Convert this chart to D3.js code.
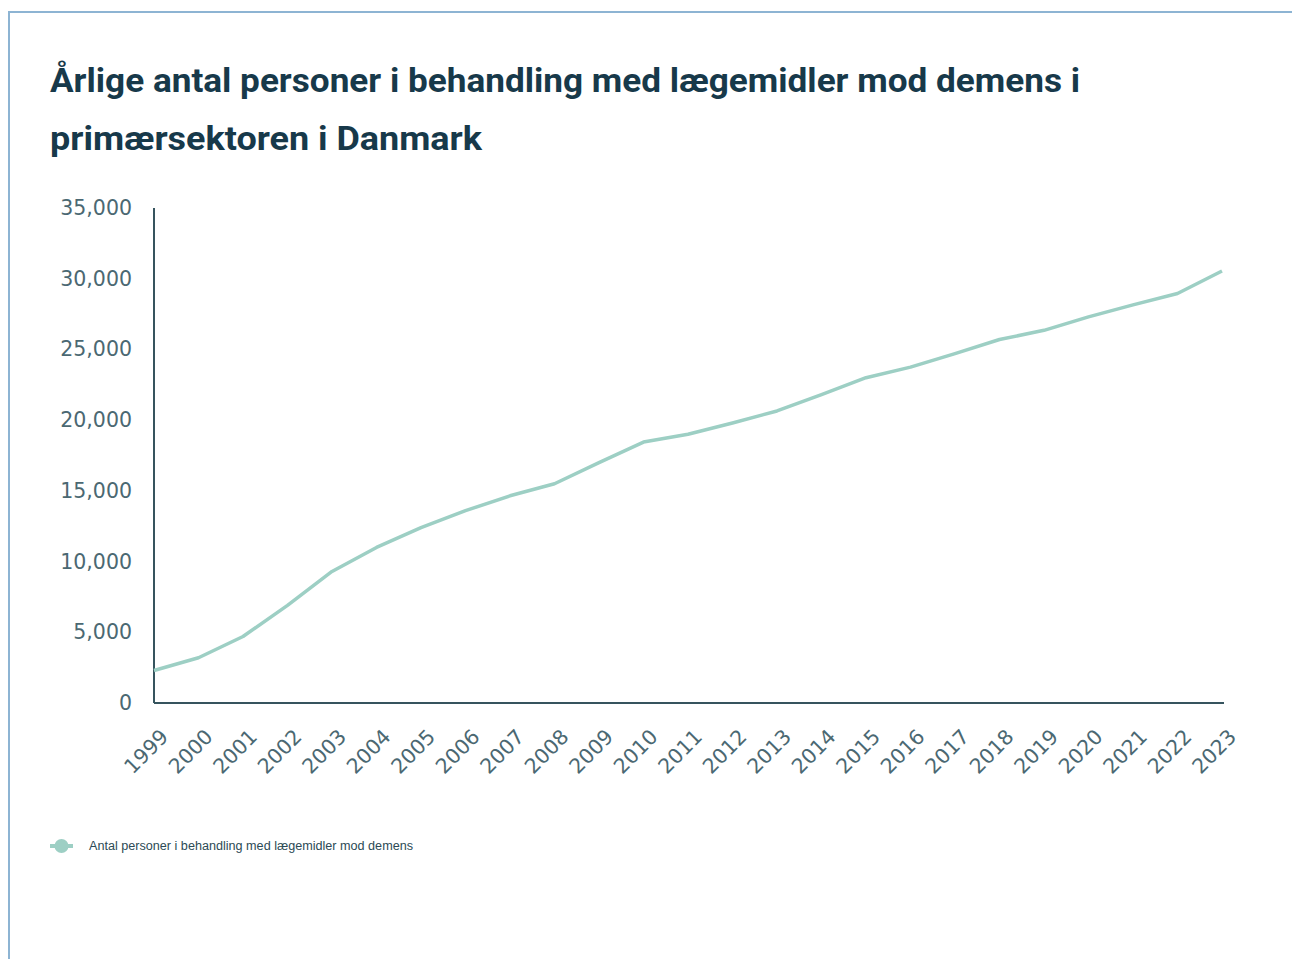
<!DOCTYPE html>
<html>
<head>
<meta charset="utf-8">
<script src="https://cdn.jsdelivr.net/npm/d3@7"></script>
<style>
  body { margin: 0; background: #fff; }
  .title { font-family: Roboto, "Open Sans", sans-serif; font-weight: 700; fill: #17394a; }
  .axis text { font-family: "DejaVu Sans", sans-serif; font-size: 20.5px; fill: #4b6872; }
  .axis path, .axis line { stroke: #36545e; }
  .legend-text { font-family: "Liberation Sans", sans-serif; font-size: 12px; fill: #2c4a55; }
</style>
</head>
<body>
<div class="chart"></div>
<script>
// Årlige antal personer i behandling med lægemidler mod demens
var years = ["1999","2000","2001","2002","2003","2004","2005","2006","2007","2008","2009","2010",
  "2011","2012","2013","2014","2015","2016","2017","2018","2019","2020","2021","2022","2023"];
var persons = [2300, 3200, 4700, 6900, 9300, 11000, 12400, 13600, 14650, 15500, 17000, 18450,
  19000, 19800, 20650, 21800, 23000, 23750, 24700, 25700, 26350, 27300, 28150, 28950, 30550];
var yTicks = [0, 5000, 10000, 15000, 20000, 25000, 30000, 35000];
var titleLines = ["Årlige antal personer i behandling med lægemidler mod demens i",
  "primærsektoren i Danmark"];
var titleWidths = [1030, 432];
var seriesName = "Antal personer i behandling med lægemidler mod demens";

var svgWidth = 1292;
var svgHeight = 959;
var margin = {top: 208, right: 68, bottom: 256, left: 154};
var width = svgWidth - margin.left - margin.right;
var height = svgHeight - margin.top - margin.bottom;

var svg = d3.select(".chart")
  .append("svg")
  .attr("width", svgWidth)
  .attr("height", svgHeight);

// light blue frame
svg.append("rect")
  .attr("x", 9).attr("y", 12)
  .attr("width", svgWidth + 20).attr("height", svgHeight + 20)
  .attr("fill", "none")
  .attr("stroke", "#8db4d3")
  .attr("stroke-width", 2);

// title
svg.selectAll(".title")
  .data(titleLines)
  .enter()
  .append("text")
  .attr("class", "title")
  .attr("x", 50)
  .attr("y", function(d, i) { return 92 + i * 58; })
  .attr("textLength", function(d, i) { return titleWidths[i]; })
  .attr("lengthAdjust", "spacingAndGlyphs")
  .style("font-size", "33px")
  .text(function(d) { return d; });

var chart = svg.append("g")
  .attr("transform", "translate(" + margin.left + "," + margin.top + ")");

var xScale = d3.scalePoint().domain(years).range([0, width - 2]);
var yScale = d3.scaleLinear().domain([0, 35000]).range([height, 0]);

var leftAxis = d3.axisLeft(yScale)
  .tickValues(yTicks)
  .tickSize(0)
  .tickPadding(22)
  .tickFormat(d3.format(","));
var bottomAxis = d3.axisBottom(xScale).tickSize(0);

var yAxisG = chart.append("g").attr("class", "axis").call(leftAxis);
yAxisG.select(".domain").attr("d", "M0," + height + "V0").attr("stroke-width", 2);

var xAxisG = chart.append("g")
  .attr("class", "axis")
  .attr("transform", "translate(0," + height + ")")
  .call(bottomAxis);
xAxisG.select(".domain").attr("d", "M0,0H" + width).attr("stroke-width", 2);
xAxisG.selectAll("text")
  .style("text-anchor", "end")
  .attr("x", 0)
  .attr("y", 0)
  .attr("dy", "0.35em")
  .attr("transform", "translate(10,30) rotate(-45)");

var line = d3.line()
  .x(function(d, i) { return xScale(years[i]); })
  .y(function(d) { return yScale(d); });

chart.append("path")
  .datum(persons)
  .attr("fill", "none")
  .attr("stroke", "#9dcfc4")
  .attr("stroke-width", 3.5)
  .attr("stroke-linejoin", "round")
  .attr("d", line);

// legend
var legend = svg.append("g").attr("transform", "translate(50,846)");
legend.append("line")
  .attr("x1", 0).attr("x2", 23)
  .attr("stroke", "#9dcfc4").attr("stroke-width", 4);
legend.append("circle")
  .attr("cx", 11.5).attr("r", 7)
  .attr("fill", "#9dcfc4");
legend.append("text")
  .attr("class", "legend-text")
  .attr("x", 39)
  .attr("dy", "0.35em")
  .attr("textLength", 324)
  .attr("lengthAdjust", "spacingAndGlyphs")
  .text(seriesName);
</script>
</body>
</html>
